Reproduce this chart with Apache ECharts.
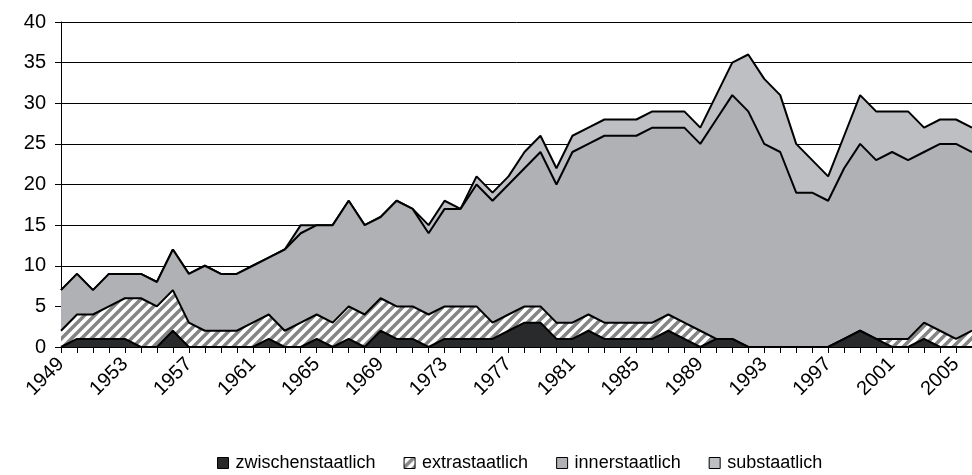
<!DOCTYPE html>
<html>
<head>
<meta charset="utf-8">
<script src="https://cdn.jsdelivr.net/npm/echarts@6/dist/echarts.min.js"></script>
<style>
html,body{margin:0;padding:0;background:#fff;}
#chart{width:972px;height:475px;}
</style>
</head>
<body>
<div id="chart"></div>
<script>
const years = ['1949','1950','1951','1952','1953','1954','1955','1956','1957','1958','1959','1960','1961','1962','1963','1964','1965','1966','1967','1968','1969','1970','1971','1972','1973','1974','1975','1976','1977','1978','1979','1980','1981','1982','1983','1984','1985','1986','1987','1988','1989','1990','1991','1992','1993','1994','1995','1996','1997','1998','1999','2000','2001','2002','2003','2004','2005','2006'];
const zwischenstaatlich = [0,1,1,1,1,0,0,2,0,0,0,0,0,1,0,0,1,0,1,0,2,1,1,0,1,1,1,1,2,3,3,1,1,2,1,1,1,1,2,1,0,1,1,0,0,0,0,0,0,1,2,1,0,0,1,0,0,0];
const extrastaatlich = [2,3,3,4,5,6,5,5,3,2,2,2,3,3,2,3,3,3,4,4,4,4,4,4,4,4,4,2,2,2,2,2,2,2,2,2,2,2,2,2,2,0,0,0,0,0,0,0,0,0,0,0,1,1,2,2,1,2];
const innerstaatlich = [5,5,3,4,3,3,3,5,6,8,7,7,7,7,10,11,11,12,13,11,10,13,12,10,12,12,15,15,16,17,19,17,21,21,23,23,23,24,23,24,23,27,30,29,25,24,19,19,18,21,23,22,23,22,21,23,24,22];
const substaatlich = [0,0,0,0,0,0,0,0,0,0,0,0,0,0,0,1,0,0,0,0,0,0,0,1,1,0,1,1,1,2,2,2,2,2,2,2,2,2,2,2,2,3,4,7,8,7,6,4,3,4,6,6,5,6,3,3,3,3];
const yTicks = [0,5,10,15,20,25,30,35,40];

function hatch(){
  const s = 10;
  const c = document.createElement('canvas');
  c.width = s; c.height = s;
  const g = c.getContext('2d');
  g.fillStyle = '#ffffff'; g.fillRect(0,0,s,s);
  g.strokeStyle = '#858585'; g.lineWidth = 3.5;
  g.beginPath();
  g.moveTo(-2,s+2); g.lineTo(s+2,-2);
  g.moveTo(-s/2-2,s/2+2); g.lineTo(s/2+2,-s/2-2);
  g.moveTo(s/2-2,s+s/2+2); g.lineTo(s+s/2+2,s/2-2);
  g.stroke();
  return c;
}
const hatchPattern = {image: hatch(), repeat: 'repeat'};

const font = 'Liberation Sans, Arial, sans-serif';
const chart = echarts.init(document.getElementById('chart'), null, {renderer:'canvas'});

const names = ['zwischenstaatlich','extrastaatlich','innerstaatlich','substaatlich'];
const dataSets = [zwischenstaatlich, extrastaatlich, innerstaatlich, substaatlich];
const fills = ['#292a2c', hatchPattern, '#afb1b4', '#bdbfc3'];

chart.setOption({
  backgroundColor: '#ffffff',
  animation: false,
  grid: {left: 61, right: -8, top: 22, bottom: 128},
  legend: {
    left: 212, top: 449,
    itemWidth: 11, itemHeight: 11, itemGap: 28,
    icon: 'rect',
    textStyle: {fontFamily: font, fontSize: 18, color: '#000', padding: [0,0,0,2]},
    data: names.map((n,i)=>({name:n, itemStyle:{color: fills[i], borderColor:'#000', borderWidth:1}}))
  },
  xAxis: {
    type: 'category',
    data: years,
    boundaryGap: false,
    axisLine: {lineStyle: {color: '#000', width: 1}},
    axisTick: {show: true, interval: 0, length: 6, lineStyle: {color: '#000'}},
    axisLabel: {interval: 3, rotate: 45, margin: 14, fontFamily: font, fontSize: 20, color: '#000'},
    splitLine: {show: false}
  },
  yAxis: {
    type: 'value',
    min: yTicks[0], max: yTicks[yTicks.length-1], interval: 5,
    axisLine: {show: true, lineStyle: {color: '#000', width: 1}},
    axisTick: {show: true, length: 6, lineStyle: {color: '#000'}},
    axisLabel: {margin: 15, fontFamily: font, fontSize: 20, color: '#000'},
    splitLine: {show: true, lineStyle: {color: '#000', width: 1}}
  },
  series: names.map((n,i)=>({
    name: n,
    type: 'line',
    stack: 'total',
    data: dataSets[i],
    symbol: 'none',
    showSymbol: false,
    z: 10 - i,
    lineStyle: {color: '#000', width: 2},
    itemStyle: {color: i===1 ? '#ffffff' : fills[i], borderColor: '#000'},
    areaStyle: {color: fills[i], opacity: 1}
  }))
});
</script>
</body>
</html>
